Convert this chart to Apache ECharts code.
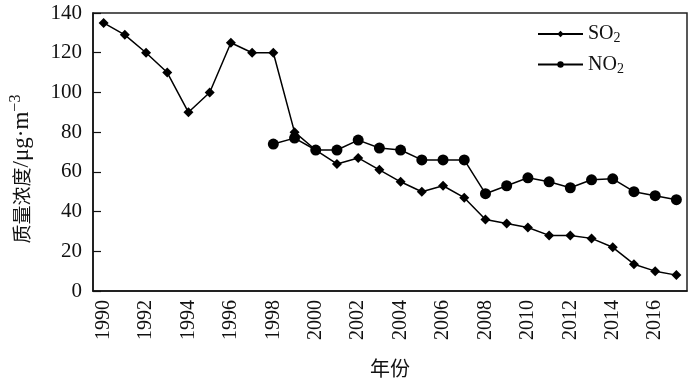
<!DOCTYPE html>
<html><head><meta charset="utf-8">
<script src="https://cdn.jsdelivr.net/npm/echarts@6/dist/echarts.min.js"></script>
<style>html,body{margin:0;padding:0;background:#fff}#c{width:700px;height:384px}</style>
</head><body><div id="c"></div>
<script>
var years = ['1990','1991','1992','1993','1994','1995','1996','1997','1998','1999','2000','2001','2002','2003','2004','2005','2006','2007','2008','2009','2010','2011','2012','2013','2014','2015','2016','2017'];
var so2 = [135,129,120,110,90,100,125,120,120,80,71,64,67,61,55,50,53,47,36,34,32,28,28,26.5,22,13.5,10,8];
var no2 = [null,null,null,null,null,null,null,null,74,77,71,71,76,72,71,66,66,66,49,53,57,55,52,56,56.5,50,48,46];
var yTicks = {min:0, max:140, interval:20};
var serif = 'Liberation Serif';
var cjk = 'Noto Sans CJK SC';
var chart = echarts.init(document.getElementById('c'));
chart.setOption({
  animation:false,
  backgroundColor:'#fff',
  grid:{left:93,right:13,top:13,bottom:93,containLabel:false,outerBoundsMode:'none',show:true,borderColor:'#222',borderWidth:1.5,backgroundColor:'transparent'},
  legend:{
    left:537, top:24, padding:0, orient:'vertical', itemGap:9, itemWidth:45, itemHeight:8,
    data:['SO2','NO2'],
    formatter:function(n){return '{a|'+n.slice(0,-1)+'}{s|2}';},
    textStyle:{fontFamily:serif,fontSize:20,color:'#111',
      rich:{a:{fontFamily:serif,fontSize:20,color:'#111'},s:{fontFamily:serif,fontSize:14,color:'#111',verticalAlign:'bottom',padding:[9,0,0,0]}}}
  },
  xAxis:{
    type:'category', data:years, boundaryGap:true,
    name:'年份', nameLocation:'middle', nameGap:67,
    nameTextStyle:{fontFamily:cjk,fontSize:20,color:'#111'},
    axisLine:{lineStyle:{color:'#111',width:1.5}},
    axisTick:{inside:true,interval:0,length:5,lineStyle:{color:'#111',width:1.2}},
    axisLabel:{interval:1,rotate:90,fontFamily:serif,fontSize:20,color:'#111',margin:9},
    splitLine:{show:false}
  },
  yAxis:{
    type:'value', min:yTicks.min, max:yTicks.max, interval:yTicks.interval,
    name:'{c|质量浓度}{d|/μg·m}{sup|−3}', nameLocation:'middle', nameGap:57, nameRotate:90,
    nameTextStyle:{fontFamily:cjk,fontSize:19,color:'#111',padding:[0,34,0,0],
      rich:{c:{fontFamily:cjk,fontSize:19,color:'#111'},d:{fontFamily:serif,fontSize:23,color:'#111'},sup:{fontFamily:serif,fontSize:16,color:'#111',verticalAlign:'top',padding:[0,0,12,0]}}},
    axisLine:{show:true,lineStyle:{color:'#111',width:1.5}},
    axisTick:{show:true,inside:true,length:8,lineStyle:{color:'#111',width:1.2}},
    axisLabel:{fontFamily:serif,fontSize:21,color:'#111',margin:11},
    splitLine:{show:false}
  },
  series:[
    {name:'SO2',type:'line',data:so2,symbol:'diamond',symbolSize:10,
     lineStyle:{color:'#000',width:1.5},itemStyle:{color:'#000'},connectNulls:false},
    {name:'NO2',type:'line',data:no2,symbol:'circle',symbolSize:11,
     lineStyle:{color:'#000',width:1.5},itemStyle:{color:'#000'},connectNulls:false}
  ]
});
</script></body></html>
